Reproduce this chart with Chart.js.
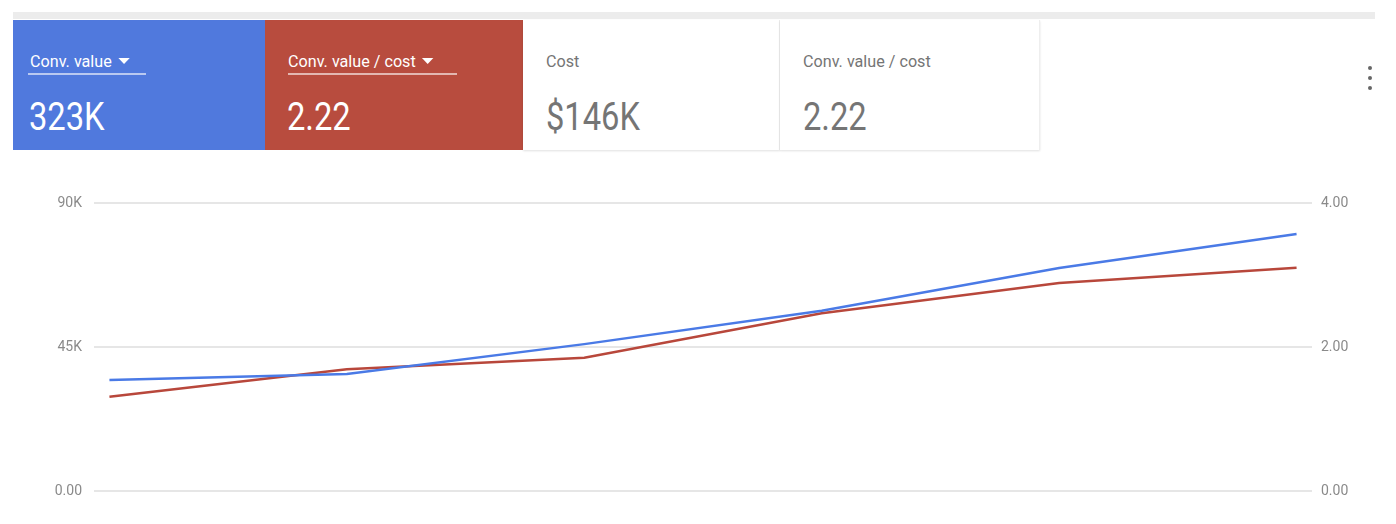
<!DOCTYPE html>
<html>
<head>
<meta charset="UTF-8">
<script src="https://cdn.jsdelivr.net/npm/chart.js@4.4.1/dist/chart.umd.min.js"></script>
<title>Conv. value vs Conv. value / cost</title>
<style>
html, body { margin:0; padding:0; background:#fff; font-family: Roboto, "Noto Sans", sans-serif; }
body { width:1396px; height:524px; position:relative; overflow:hidden; }
.topbar { position:absolute; left:13px; top:12px; width:1362px; height:7px; background:#ececec; }
.tile { position:absolute; top:20px; height:130px; box-sizing:border-box; }
.tile .lbl { position:absolute; left:17px; top:31px; font-size:17px; line-height:20px; white-space:nowrap; transform:scaleX(0.95); transform-origin:left; }
.tile .val { position:absolute; left:16px; top:77px; font-size:38px; line-height:40px; white-space:nowrap; transform:scaleX(0.86); transform-origin:left; }
.tile .ul { position:absolute; left:15px; top:53px; height:2px; }
.caret { display:inline-block; width:0; height:0; border-left:6px solid transparent; border-right:6px solid transparent; border-top:6px solid #fff; margin-left:7px; vertical-align:3px; }
.t1 { left:13px; width:252px; background:#5079dd; color:#fff; }
.t2 { left:265px; width:258px; background:#b84c3e; color:#fff; }
.t3 { left:523px; width:257px; background:#fff; color:#757575; border-right:1px solid #eee; box-shadow:0 1px 2px rgba(0,0,0,0.12); }
.t4 { left:780px; width:260px; background:#fff; color:#757575; border-right:1px solid #eee; box-shadow:0 1px 2px rgba(0,0,0,0.12); }
.t3 .lbl, .t4 .lbl, .t3 .val, .t4 .val { left:23px; }
.kebab { position:absolute; left:1368px; top:66px; width:4px; }
.kebab span { display:block; width:4px; height:4px; border-radius:2px; background:#666; margin-bottom:6px; }
#wrap { position:absolute; left:0; top:170px; width:1396px; height:354px; }
</style>
</head>
<body>
<div class="topbar"></div>
<div class="tile t1"><div class="lbl">Conv. value<span class="caret"></span></div><div class="ul" style="width:118px;background:rgba(255,255,255,0.6)"></div><div class="val">323K</div></div>
<div class="tile t2"><div class="lbl" style="left:23px">Conv. value / cost<span class="caret"></span></div><div class="ul" style="left:23px;width:169px;background:rgba(255,255,255,0.6)"></div><div class="val" style="left:22px">2.22</div></div>
<div class="tile t3"><div class="lbl">Cost</div><div class="val">$146K</div></div>
<div class="tile t4"><div class="lbl">Conv. value / cost</div><div class="val">2.22</div></div>
<div class="kebab"><span></span><span></span><span></span></div>

<div id="wrap"><canvas id="canvas"></canvas></div>

<script>
// periods shown on the chart (no date labels visible)
var periods = [0, 1, 2, 3, 4, 5];
// Conv. value (left axis)
var convValue = [34700, 36600, 45900, 56300, 69700, 80300];
// Conv. value / cost (right axis)
var convValueCost = [1.31, 1.69, 1.85, 2.47, 2.89, 3.10];
var leftTicks = [0, 45000, 90000];
var leftTickLabels = ['0.00', '45K', '90K'];
var rightTicks = [0, 2, 4];

var toPoints = function(vals) {
    var out = [];
    for (var i = 0; i < periods.length; i++) out.push({x: periods[i], y: vals[i]});
    return out;
};

var ctx = document.getElementById('canvas').getContext('2d');
var chart = new Chart(ctx, {
    type: 'line',
    data: {
        datasets: [{
            label: 'Conv. value',
            data: toPoints(convValue),
            borderColor: '#4a7ae6',
            borderWidth: 2.5,
            pointRadius: 0,
            tension: 0,
            yAxisID: 'y'
        }, {
            label: 'Conv. value / cost',
            data: toPoints(convValueCost),
            borderColor: '#b8473b',
            borderWidth: 2.5,
            pointRadius: 0,
            tension: 0,
            yAxisID: 'y1'
        }]
    },
    options: {
        responsive: true,
        maintainAspectRatio: false,
        animation: false,
        layout: { padding: { top: 33, bottom: 33, left: 0, right: 0 } },
        plugins: { legend: { display: false }, tooltip: { enabled: false } },
        scales: {
            x: {
                type: 'linear',
                min: -0.065,
                max: 5.065,
                display: false
            },
            y: {
                position: 'left',
                min: 0,
                max: 90000,
                afterFit: function(s) { s.width = 94; },
                afterBuildTicks: function(s) { s.ticks = leftTicks.map(function(v){ return {value: v}; }); },
                ticks: {
                    padding: 12,
                    color: '#8a8a8a',
                    font: { family: 'Roboto', size: 14 },
                    callback: function(v) { return leftTickLabels[leftTicks.indexOf(v)]; }
                },
                grid: { color: '#e6e6e6', lineWidth: 2, drawTicks: false },
                border: { display: false }
            },
            y1: {
                position: 'right',
                min: 0,
                max: 4,
                afterFit: function(s) { s.width = 84; },
                afterBuildTicks: function(s) { s.ticks = rightTicks.map(function(v){ return {value: v}; }); },
                ticks: {
                    padding: 9,
                    color: '#8a8a8a',
                    font: { family: 'Roboto', size: 14 },
                    callback: function(v) { return v.toFixed(2); }
                },
                grid: { display: false, drawTicks: false },
                border: { display: false }
            }
        }
    }
});
</script>
</body>
</html>
